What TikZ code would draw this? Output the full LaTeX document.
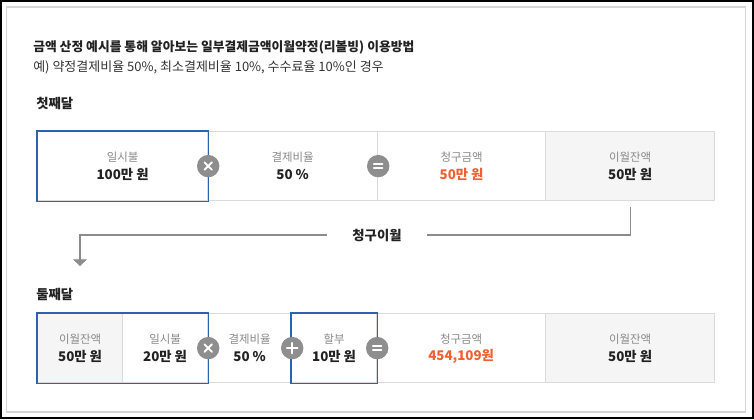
\documentclass[tikz,border=0pt]{standalone}
\usepackage{fontspec}
\setmainfont{Noto Sans CJK KR}
\usetikzlibrary{arrows.meta}
\definecolor{txt}{HTML}{222222}
\definecolor{subtxt}{HTML}{333333}
\definecolor{lbl}{HTML}{8A8A8A}
\definecolor{org}{HTML}{F0602E}
\definecolor{bluebd}{HTML}{2D63AE}
\definecolor{graybd}{HTML}{DADADA}
\definecolor{grayfill}{HTML}{F5F5F5}
\definecolor{opgray}{HTML}{8E8E8E}
\definecolor{conn}{HTML}{8C8C8C}
\definecolor{framegray}{HTML}{D5D5D5}
\tikzset{
  cellbox/.style={draw=graybd, line width=0.9pt, fill=white, inner sep=0pt, anchor=north west, minimum height=51.75pt},
  grayc/.style={fill=grayfill},
  bluec/.style={draw=bluebd},
  lbltext/.style={inner sep=0pt, text=lbl, font=\fontsize{8.6pt}{10pt}\selectfont},
  valtext/.style={inner sep=0pt, text=txt, font=\bfseries\fontsize{10pt}{12pt}\selectfont},
  heading/.style={inner sep=0pt, anchor=west, text=txt, font=\bfseries\fontsize{10pt}{12pt}\selectfont},
  opbase/.style={circle, fill=opgray, minimum size=16.8pt, inner sep=0pt},
  optimes/.style={opbase, path picture={
    \draw[white, line width=1.4pt, line cap=round]
      ([shift={(-2.8pt,-2.8pt)}]path picture bounding box.center) -- ([shift={(2.8pt,2.8pt)}]path picture bounding box.center)
      ([shift={(-2.8pt,2.8pt)}]path picture bounding box.center) -- ([shift={(2.8pt,-2.8pt)}]path picture bounding box.center);}},
  opplus/.style={opbase, path picture={
    \draw[white, line width=1.4pt, line cap=round]
      ([shift={(-4pt,0pt)}]path picture bounding box.center) -- ([shift={(4pt,0pt)}]path picture bounding box.center)
      ([shift={(0pt,4pt)}]path picture bounding box.center) -- ([shift={(0pt,-4pt)}]path picture bounding box.center);}},
  opeq/.style={opbase, path picture={
    \draw[white, line width=1.4pt, line cap=round]
      ([shift={(-3.2pt,1.6pt)}]path picture bounding box.center) -- ([shift={(3.2pt,1.6pt)}]path picture bounding box.center)
      ([shift={(-3.2pt,-1.6pt)}]path picture bounding box.center) -- ([shift={(3.2pt,-1.6pt)}]path picture bounding box.center);}},
  connline/.style={draw=conn, line width=0.8pt},
}
% #1 name, #2 x, #3 y, #4 width px, #5 style, #6 label, #7 value, #8 value colour
\newcommand{\mycell}[8]{%
  \node[cellbox, #5, minimum width=#4*0.75pt] (#1) at (#2,#3) {};
  \node[lbltext] (#1l) at ([yshift=6.5pt]#1.center) {#6};
  \node[valtext, text=#8] (#1v) at ([yshift=-6.5pt]#1.center) {#7};
}
\begin{document}
\begin{tikzpicture}[x=0.75pt, y=-0.75pt]
\useasboundingbox (0,0) rectangle (754,419);
% frames
\draw[black, line width=1.5pt] (1,1) rectangle (753,418);
\draw[framegray, line width=1.2pt] (6.5,7) rectangle (745.5,412);
% texts
\node[heading, font=\bfseries\fontsize{9.6pt}{11pt}\selectfont] (title) at (33,47) {금액 산정 예시를 통해 알아보는 일부결제금액이월약정(리볼빙) 이용방법};
\node[inner sep=0pt, anchor=west, text=subtxt, font=\fontsize{9.75pt}{11pt}\selectfont] (sub) at (33,67) {예) 약정결제비율 50\%, 최소결제비율 10\%, 수수료율 10\%인 경우};
\node[heading] (m1) at (36,103) {첫째달};
\node[heading] (m2) at (36,294) {둘째달};
% row 1
\mycell{a1}{37}{131}{170}{}{일시불}{100만 원}{txt}
\mycell{a2}{207}{131}{170}{}{결제비율}{50 \%}{txt}
\mycell{a3}{377}{131}{168}{}{청구금액}{50만 원}{org}
\mycell{a4}{545}{131}{169}{grayc}{이월잔액}{50만 원}{txt}
\draw[bluebd, line width=0.9pt] (a1.north west) rectangle (a1.south east);
\node[optimes] (o1) at (a1.east) {};
\node[opeq] (o2) at (a2.east) {};
% connector
\node[heading, anchor=center, inner xsep=19pt, inner ysep=2pt] (carry) at (377,235) {청구이월};
\coordinate (arr) at (80,266);
\draw[connline] ([yshift=-4pt]a4.south) |- (carry.east);
\draw[connline, -{Triangle[width=10.5pt, length=5pt]}] (carry.west) -| (arr);
% row 2
\mycell{b1}{37}{313}{85}{grayc}{이월잔액}{50만 원}{txt}
\mycell{b2}{122}{313}{85}{}{일시불}{20만 원}{txt}
\mycell{b3}{207}{313}{84}{}{결제비율}{50 \%}{txt}
\mycell{b4}{291}{313}{85}{}{할부}{10만 원}{txt}
\mycell{b5}{376}{313}{169}{}{청구금액}{454,109원}{org}
\mycell{b6}{545}{313}{169}{grayc}{이월잔액}{50만 원}{txt}
\draw[bluebd, line width=0.9pt] (b1.north west) rectangle (b2.south east);
\draw[bluebd, line width=0.9pt] (b4.north west) rectangle (b4.south east);
\node[optimes] (p1) at (b2.east) {};
\node[opplus] (p2) at (b3.east) {};
\node[opeq] (p3) at (b4.east) {};
\end{tikzpicture}
\end{document}
